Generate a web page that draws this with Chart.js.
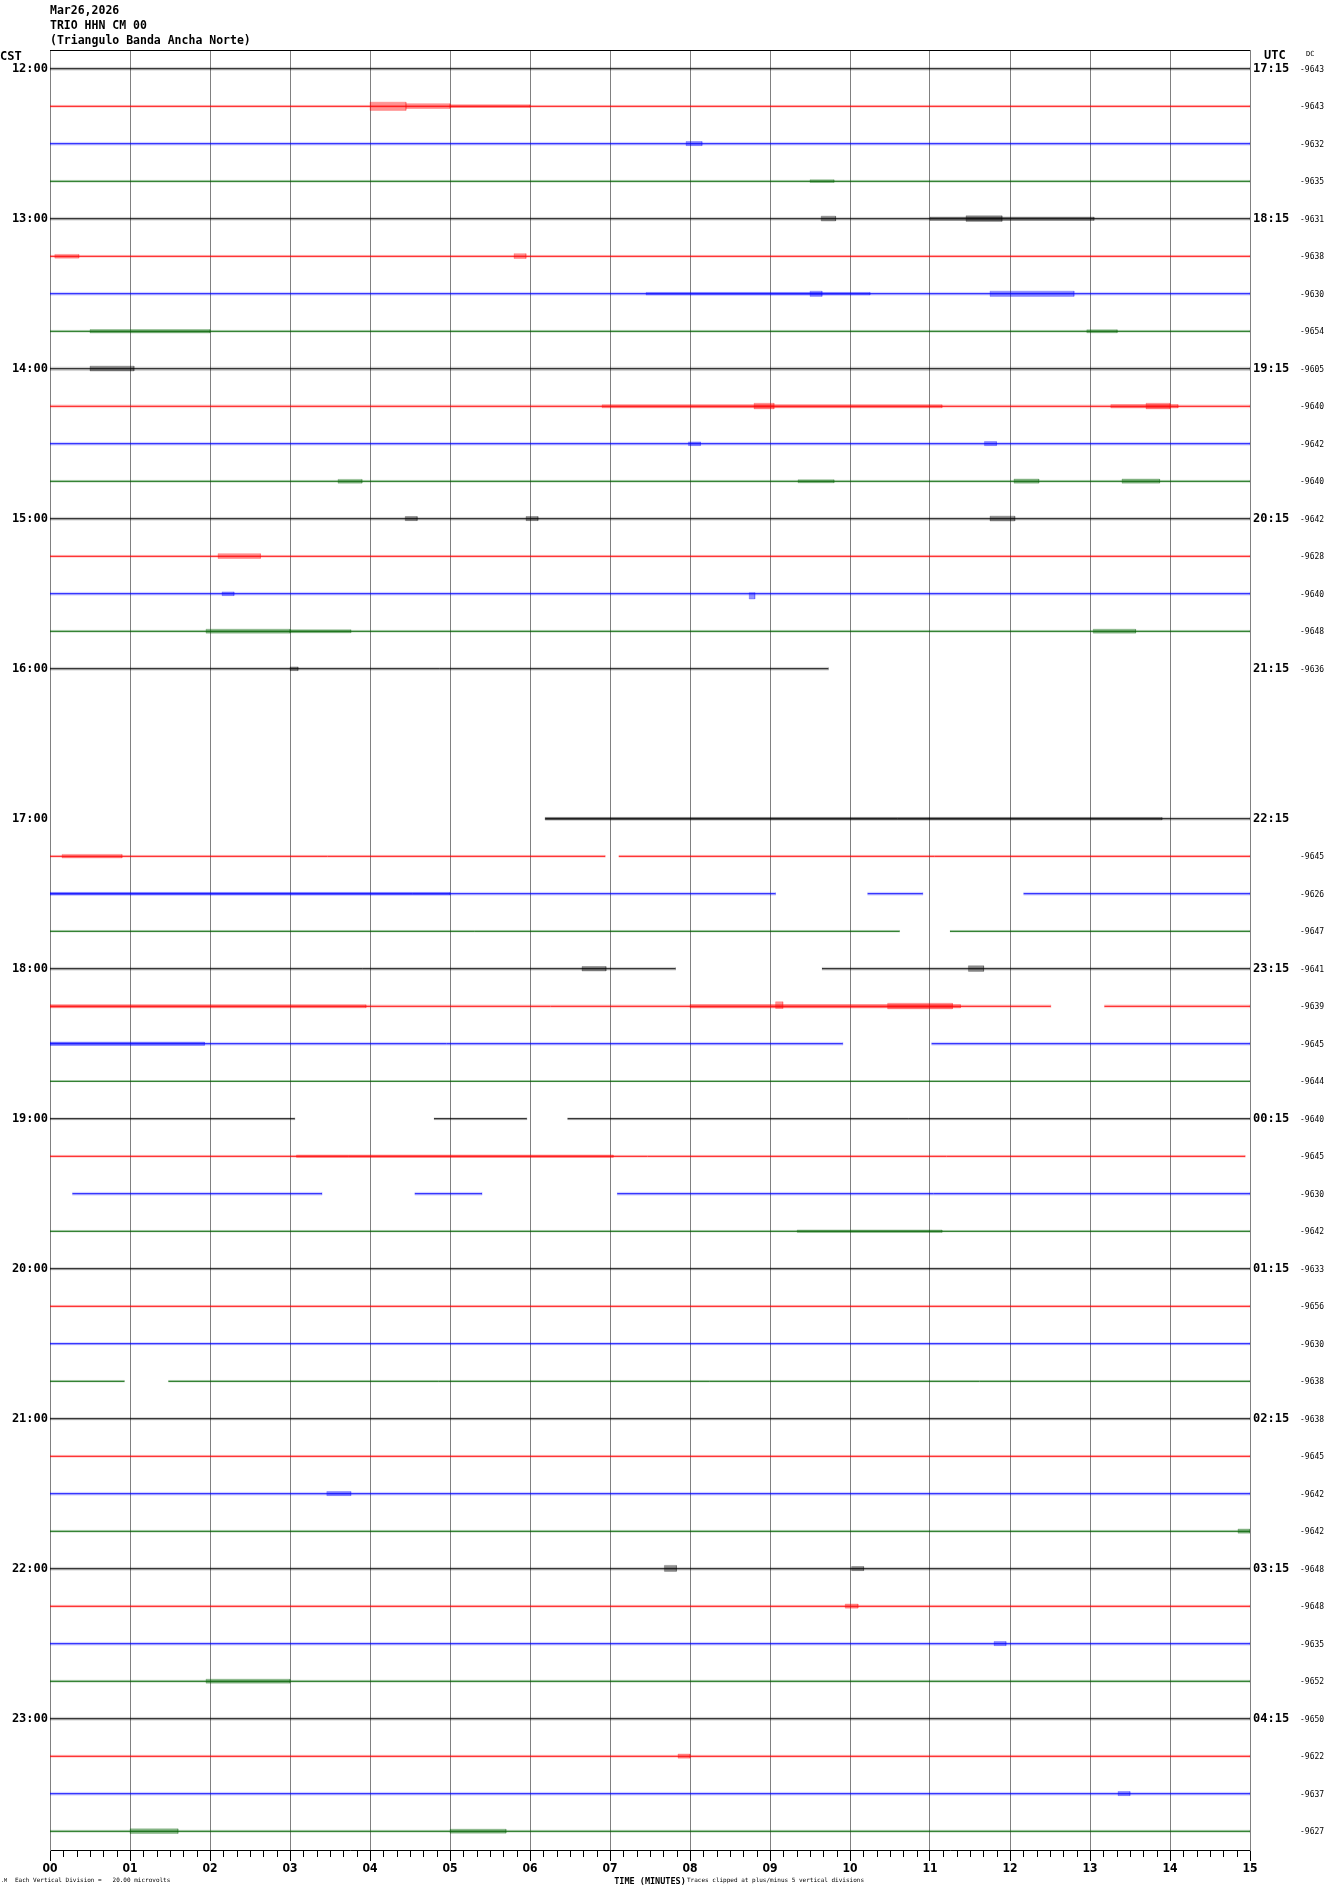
<!DOCTYPE html>
<html><head><meta charset="utf-8">
<script src="https://cdn.jsdelivr.net/npm/chart.js@4.4.1/dist/chart.umd.min.js"></script>
<style>html,body{margin:0;padding:0;background:#fff}canvas{display:block}</style>
</head><body>
<canvas id="c" width="1330" height="1894"></canvas>
<script>
// ---------------- DATA ----------------
const headerLines = ["Mar26,2026", "TRIO HHN CM 00", "(Triangulo Banda Ancha Norte)"];
const minuteLabels = ["00","01","02","03","04","05","06","07","08","09","10","11","12","13","14","15"];
const cstHourRows = [0,4,8,12,16,20,24,28,32,36,40,44];
const cstLabels = ["12:00","13:00","14:00","15:00","16:00","17:00","18:00","19:00","20:00","21:00","22:00","23:00"];
const utcLabels = ["17:15","18:15","19:15","20:15","21:15","22:15","23:15","00:15","01:15","02:15","03:15","04:15"];
const dcValues = [
  -9643,-9643,-9632,-9635,-9631,-9638,-9630,-9654,
  -9605,-9640,-9642,-9640,-9642,-9628,-9640,-9648,
  -9636,null,null,null,null,-9645,-9626,-9647,
  -9641,-9639,-9645,-9644,-9640,-9645,-9630,-9642,
  -9633,-9656,-9630,-9638,-9638,-9645,-9642,-9642,
  -9648,-9648,-9635,-9652,-9650,-9622,-9637,-9627
];
// recorded segments (start minute, end minute) for each 15-minute trace
const traceSegments = [
  [[0,15]],[[0,15]],[[0,15]],[[0,15]],
  [[0,15]],[[0,15]],[[0,15]],[[0,15]],
  [[0,15]],[[0,15]],[[0,15]],[[0,15]],
  [[0,15]],[[0,15]],[[0,15]],[[0,15]],
  [[0,9.73]],[],[],[],
  [[6.19,15]],[[0,6.94],[7.11,15]],[[0,9.07],[10.22,10.91],[12.17,15]],[[0,10.62],[11.25,15]],
  [[0,7.82],[9.65,15]],[[0,12.51],[13.18,15]],[[0,9.91],[11.02,15]],[[0,15]],
  [[0,3.06],[4.80,5.96],[6.47,15]],[[0,14.94]],[[0.28,3.40],[4.56,5.40],[7.09,15]],[[0,15]],
  [[0,15]],[[0,15]],[[0,15]],[[0,0.93],[1.48,15]],
  [[0,15]],[[0,15]],[[0,15]],[[0,15]],
  [[0,15]],[[0,15]],[[0,15]],[[0,15]],
  [[0,15]],[[0,15]],[[0,15]],[[0,15]]
];
// background noise half-amplitude of each trace (in trace-spacing units)
const rowNoise = [
  0.04,0.03,0.04,0.03,0.04,0.03,0.04,0.03,
  0.05,0.04,0.04,0.03,0.04,0.03,0.04,0.03,
  0.04,0,0,0,0.04,0.03,0.04,0.025,
  0.04,0.04,0.04,0.02,0.03,0.03,0.04,0.025,
  0.035,0.03,0.035,0.025,0.035,0.03,0.04,0.03,
  0.04,0.035,0.04,0.035,0.04,0.035,0.04,0.035
];
// bursts of ground motion: [trace, start min, end min, amplitude up, amplitude down] (trace-spacing units)
const bursts = [
  [1,4.00,4.45,0.11,0.11],[1,4.45,5.00,0.07,0.06],[1,5.00,6.00,0.04,0.03],
  [2,7.95,8.15,0.06,0.05],
  [3,9.50,9.80,0.04,0.03],
  [4,9.64,9.82,0.07,0.06],[4,11.00,13.05,0.045,0.045],[4,11.45,11.90,0.08,0.07],
  [5,0.06,0.36,0.05,0.05],[5,5.80,5.95,0.07,0.06],
  [6,7.45,10.25,0.035,0.035],[6,9.50,9.65,0.07,0.07],[6,11.75,12.80,0.07,0.07],
  [7,0.50,2.00,0.045,0.045],[7,12.96,13.34,0.04,0.04],
  [8,0.50,1.05,0.07,0.06],
  [9,6.90,11.15,0.04,0.04],[9,8.80,9.05,0.08,0.07],[9,13.26,14.10,0.045,0.045],[9,13.70,14.00,0.08,0.07],
  [10,7.98,8.13,0.05,0.05],[10,11.68,11.83,0.06,0.05],
  [11,3.60,3.90,0.05,0.05],[11,9.35,9.80,0.04,0.04],[11,12.05,12.36,0.06,0.05],[11,13.40,13.87,0.06,0.05],
  [12,4.44,4.59,0.06,0.05],[12,5.95,6.10,0.06,0.05],[12,11.75,12.06,0.07,0.06],
  [13,2.10,2.63,0.07,0.06],
  [14,2.15,2.30,0.05,0.05],[14,8.74,8.81,0.03,0.14],
  [15,1.95,3.00,0.055,0.05],[15,3.00,3.76,0.04,0.04],[15,13.04,13.57,0.055,0.05],
  [16,3.00,3.10,0.05,0.05],
  [20,6.19,13.90,0.035,0.03],
  [21,0.15,0.90,0.05,0.045],
  [22,0.00,5.00,0.035,0.035],
  [24,6.65,6.95,0.06,0.06],[24,11.48,11.67,0.08,0.07],
  [25,0.00,3.95,0.04,0.04],[25,8.00,11.38,0.045,0.045],[25,9.07,9.16,0.12,0.06],[25,10.47,11.28,0.08,0.07],
  [26,0.00,1.93,0.045,0.045],
  [29,3.08,7.04,0.035,0.03],
  [31,9.34,11.15,0.035,0.03],
  [38,3.46,3.76,0.06,0.05],
  [39,14.85,15.00,0.06,0.05],
  [40,7.68,7.83,0.09,0.07],[40,10.02,10.17,0.06,0.05],
  [41,9.94,10.10,0.06,0.05],
  [42,11.80,11.95,0.06,0.05],
  [43,1.95,3.00,0.055,0.05],
  [45,7.85,8.00,0.06,0.05],
  [46,13.35,13.50,0.06,0.05],
  [47,1.00,1.60,0.065,0.06],[47,5.00,5.70,0.055,0.05]
];
const divisionNote = "Each Vertical Division =   20.00 microvolts";
const clipNote = "Traces clipped at plus/minus 5 vertical divisions";
const axisTitle = "TIME (MINUTES)";
const subTicksPerMinute = 6;

// ---------------- STYLE ----------------
const traceColors = ["#000000","#ff0000","#0000ff","#006400"];
const burstColors = ["rgba(0,0,0,0.42)","rgba(255,0,0,0.42)","rgba(0,0,255,0.42)","rgba(0,100,0,0.42)"];
const noiseColors = ["rgba(0,0,0,0.16)","rgba(255,0,0,0.16)","rgba(0,0,255,0.16)","rgba(0,100,0,0.16)"];
const MONO = "'DejaVu Sans Mono', 'Liberation Mono', monospace";
const NARROW = "'Liberation Sans Narrow', 'DejaVu Sans Condensed', sans-serif";
const rowCount = traceSegments.length;

// ---------------- DATASETS ----------------
const datasets = [];
function band(row, s, e, up, dn, color) {
  return {
    data: [{x:s,y:row-up},{x:e,y:row-up},{x:e,y:row+dn},{x:s,y:row+dn},{x:s,y:row-up}],
    fill: 'shape', backgroundColor: color, borderColor: color, borderWidth: 0.5,
    pointRadius: 0, tension: 0
  };
}
traceSegments.forEach((segs, row) => {
  segs.forEach(([s, e]) => {
    if (rowNoise[row] > 0) datasets.push(band(row, s, e, rowNoise[row], rowNoise[row], noiseColors[row % 4]));
  });
});
bursts.forEach(([row, s, e, up, dn]) => datasets.push(band(row, s, e, up, dn, burstColors[row % 4])));
traceSegments.forEach((segs, row) => {
  const data = [];
  segs.forEach(([s, e]) => { data.push({x:s,y:row},{x:e,y:row},{x:e,y:null}); });
  datasets.push({data, borderColor: traceColors[row % 4], borderWidth: 1, pointRadius: 0, fill: false, spanGaps: false});
});

// ---------------- DECORATIONS ----------------
const decor = {
  id: 'decor',
  afterDraw(chart) {
    const {ctx, chartArea: a, scales: {x, y}} = chart;
    ctx.save();
    // top frame line
    ctx.strokeStyle = '#000'; ctx.lineWidth = 1;
    ctx.beginPath(); ctx.moveTo(a.left, a.top + 0.5); ctx.lineTo(a.right, a.top + 0.5); ctx.stroke();
    // 10-second minor ticks
    ctx.beginPath();
    for (let m = 0; m < minuteLabels.length - 1; m++) {
      for (let k = 1; k < subTicksPerMinute; k++) {
        const px = Math.round(x.getPixelForValue(m + k / subTicksPerMinute)) + 0.5;
        ctx.moveTo(px, a.bottom); ctx.lineTo(px, a.bottom + 7);
      }
    }
    ctx.stroke();
    // header
    ctx.fillStyle = '#000'; ctx.textBaseline = 'middle'; ctx.textAlign = 'left';
    ctx.font = "bold 11.5px " + MONO;
    headerLines.forEach((t, i) => ctx.fillText(t, a.left, 11.5 + 15 * i));
    ctx.font = "bold 12px " + MONO;
    ctx.fillText("CST", 0, 57);
    ctx.fillText("UTC", a.right + 14, 56);
    ctx.font = "7px " + MONO;
    ctx.fillText("DC", a.right + 56, 54);
    // DC values
    ctx.font = "8px " + MONO;
    dcValues.forEach((v, row) => {
      if (v === null) return;
      ctx.fillText(String(v), a.right + 50, y.getPixelForValue(row) + 1);
    });
    // notes
    ctx.font = "6px " + MONO;
    ctx.fillText(divisionNote, 15, 1880);
    ctx.fillText(clipNote, 687, 1880);
    ctx.font = "5px " + MONO;
    ctx.fillText(".M", 1, 1881);
    ctx.restore();
  }
};

const yCommon = {
  type: 'linear', reverse: true, min: -0.5, max: rowCount - 0.5,
  afterBuildTicks: s => { s.ticks = cstHourRows.map(v => ({value: v})); },
  grid: {display: true, drawOnChartArea: false, drawTicks: false},
  border: {color: '#808080', width: 1}
};

new Chart(document.getElementById('c'), {
  type: 'line',
  data: {datasets},
  options: {
    responsive: false, animation: false, events: [],
    layout: {padding: {top: 50, left: 0, right: 0, bottom: 0}},
    plugins: {legend: {display: false}, tooltip: {enabled: false}},
    scales: {
      x: {
        type: 'linear', min: 0, max: 15, position: 'bottom',
        afterFit: s => { s.height = 44; },
        ticks: {stepSize: 1, autoSkip: false, maxRotation: 0, padding: 1,
          callback: (v, i) => minuteLabels[i],
          font: {family: NARROW, size: 12, weight: 'bold'}, color: '#000'},
        grid: {color: '#808080', lineWidth: 1, tickLength: 11, tickColor: '#000', tickWidth: 1},
        border: {color: '#000', width: 1},
        title: {display: true, text: axisTitle, color: '#000',
          font: {family: MONO, size: 8.5, weight: 'bold'}, padding: {top: 0, bottom: 7}}
      },
      y: Object.assign({}, yCommon, {
        position: 'left',
        afterFit: s => { s.width = 50; },
        ticks: {autoSkip: false, padding: 2, callback: (v, i) => cstLabels[i],
          font: {family: MONO, size: 12, weight: 'bold'}, color: '#000'}
      }),
      y2: Object.assign({}, yCommon, {
        position: 'right',
        afterFit: s => { s.width = 80; },
        ticks: {autoSkip: false, padding: 3, callback: (v, i) => utcLabels[i],
          font: {family: MONO, size: 12, weight: 'bold'}, color: '#000'}
      })
    }
  },
  plugins: [decor]
});
</script>
</body></html>
